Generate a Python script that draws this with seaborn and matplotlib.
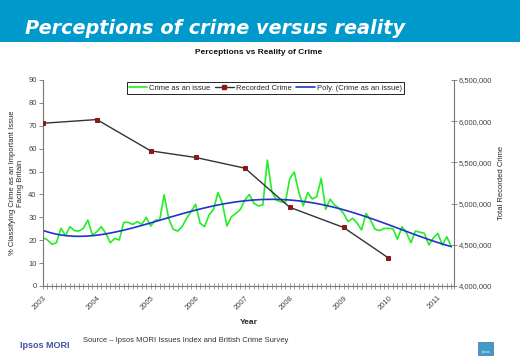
import numpy as np
import pandas as pd
import matplotlib
matplotlib.use("Agg")
import matplotlib.pyplot as plt
from matplotlib.patches import Rectangle
from matplotlib.lines import Line2D
from matplotlib.ticker import FuncFormatter, FixedLocator, MultipleLocator
import seaborn as sns

# ---------------- data ----------------
# "Crime as an issue" (% naming crime as important issue), survey waves in order
crime_issue = [21.1, 20.1, 18.2, 18.9, 25.2, 22.0, 25.9, 24.2, 24.0, 25.2,
               28.8, 22.3, 23.7, 25.9, 23.0, 18.9, 20.8, 20.1, 27.8, 27.8,
               26.9, 28.1, 26.9, 30.0, 26.2, 28.8, 28.8, 39.8, 29.6, 24.8,
               24.0, 25.9, 29.6, 32.5, 35.7, 27.5, 25.9, 31.0, 33.5, 40.8,
               36.0, 26.2, 30.3, 31.7, 33.5, 37.6, 40.0, 36.1, 35.0, 35.4,
               55.0, 41.2, 37.6, 36.8, 36.4, 47.0, 49.8, 41.0, 35.0, 40.8,
               38.0, 39.0, 47.0, 33.5, 37.9, 35.4, 33.9, 31.7, 28.1, 29.6,
               27.5, 24.5, 31.7, 28.8, 24.8, 24.2, 25.1, 25.2, 25.0, 20.4,
               25.9, 23.3, 18.9, 24.0, 23.5, 23.0, 17.9, 21.0, 23.0, 17.9,
               21.5, 17.2]
years = ["2003", "2004", "2005", "2006", "2007", "2008", "2009", "2010", "2011"]
year_wave = [0, 12, 24, 34, 45, 55, 67, 77, 88]          # wave index of each year label
recorded_crime = [5975000, 6020000, 5640000, 5560000, 5430000, 4955000, 4710000, 4340000]
recorded_wave = year_wave[:8]

wave = np.arange(len(crime_issue))
df_issue = pd.DataFrame({"wave": wave, "pct": crime_issue})
df_rec = pd.DataFrame({"wave": recorded_wave, "crime": recorded_crime})

# ---------------- style ----------------
sns.set_style("white")
plt.rcParams["font.family"] = ["Liberation Sans", "DejaVu Sans"]

W, H = 520, 360
fig = plt.figure(figsize=(W / 100, H / 100), dpi=100)

# banner
fig.patches.append(Rectangle((0, 1 - 42 / H), 1, 42 / H, transform=fig.transFigure,
                             facecolor="#0099CC", edgecolor="none", zorder=0))
fig.text(25 / W, 1 - 33.5 / H, "Perceptions of crime versus reality", color="white",
         fontsize=13.9, fontweight="bold", style="italic", va="baseline", ha="left",
         family=["DejaVu Sans"])
fig.text(259 / W, 1 - 52.5 / H, "Perceptions vs Reality of Crime", fontsize=6,
         fontweight="bold", ha="center", va="center", color="#111111")

ax = fig.add_axes([43 / W, 1 - 286 / H, 411 / W, 206 / H])
ax2 = ax.twinx()

green = "#22EE22"
blue = "#2233CC"
dark = "#333333"
marker_col = "#8B1A1A"

sns.lineplot(data=df_issue, x="wave", y="pct", ax=ax, color=green, lw=1.2)
sns.regplot(data=df_issue, x="wave", y="pct", ax=ax, order=4, scatter=False, ci=None,
            line_kws=dict(color=blue, lw=1.2))
sns.lineplot(data=df_rec, x="wave", y="crime", ax=ax2, color=dark, lw=1.0,
             marker="s", markersize=3.0, markerfacecolor=marker_col,
             markeredgecolor=marker_col)

n = len(crime_issue)
ax.set_xlim(0, n - 0.4)
ax.set_ylim(0, 90)
ax2.set_ylim(4000000, 6500000)

ax.yaxis.set_major_locator(MultipleLocator(10))
ax2.yaxis.set_major_locator(MultipleLocator(500000))
ax2.yaxis.set_major_formatter(FuncFormatter(lambda v, p: f"{int(v):,}"))

ax.xaxis.set_major_locator(FixedLocator(year_wave))
ax.set_xticklabels(years, rotation=45, ha="right", rotation_mode="anchor")
ax.xaxis.set_minor_locator(FixedLocator(list(wave) + [n - 0.4]))

axis_col = "#777777"
for a in (ax, ax2):
    for s in a.spines.values():
        s.set_visible(False)
ax.spines["left"].set_visible(True)
ax.spines["bottom"].set_visible(True)
ax2.spines["right"].set_visible(True)
for s in (ax.spines["left"], ax.spines["bottom"], ax2.spines["right"]):
    s.set_color(axis_col)
    s.set_linewidth(0.8)

ax.tick_params(axis="y", which="major", direction="out", length=3, width=0.6,
               color=axis_col, labelsize=5.5, labelcolor="#444444", pad=1.5, left=True)
ax2.tick_params(axis="y", which="major", direction="inout", length=4, width=0.6,
                color=axis_col, labelsize=5.5, labelcolor="#444444", pad=1.5, right=True)
ax.tick_params(axis="x", which="both", direction="inout", length=4, width=0.5,
               color=axis_col, bottom=True)
ax.tick_params(axis="x", which="major", labelsize=5.5, labelcolor="#444444", pad=4)

ax.set_xlabel("Year", fontsize=6, fontweight="bold", labelpad=6)
ax.set_ylabel("% Classifying Crime as an Important Issue\nFacing Britain", fontsize=5.5,
              labelpad=3.5, linespacing=1.1)
ax2.set_ylabel("Total Recorded Crime", fontsize=5.5, labelpad=4)
ax.grid(False)
ax2.grid(False)

handles = [Line2D([], [], color=green, lw=1.2),
           Line2D([], [], color=dark, lw=1.0, marker="s", markersize=2.5,
                  markerfacecolor=marker_col, markeredgecolor=marker_col),
           Line2D([], [], color=blue, lw=1.2)]
labels = ["Crime as an issue", "Recorded Crime", "Poly. (Crime as an issue)"]
leg = ax2.legend(handles, labels, loc="upper center", bbox_to_anchor=(0.541, 0.988),
                 ncol=3, fontsize=5.5, frameon=True, fancybox=False, framealpha=1,
                 edgecolor="black", borderpad=0.3, handlelength=2.4,
                 handletextpad=0.3, columnspacing=0.6, borderaxespad=0)
leg.get_frame().set_linewidth(0.6)

# footer
fig.text(83 / W, 1 - 340 / H, "Source \u2013 Ipsos MORI Issues Index and British Crime Survey",
         fontsize=5.5, color="#333333", ha="left", va="center")
fig.text(20 / W, 1 - 345 / H, "Ipsos MORI", fontsize=6.5, fontweight="bold",
         color="#3F51A3", ha="left", va="center")
fig.patches.append(Rectangle((478 / W, 1 - 355 / H), 15 / W, 13 / H,
                             transform=fig.transFigure, facecolor="#3E9DC8",
                             edgecolor="#5B5FB0", lw=0.5))
fig.text(485.5 / W, 1 - 351.5 / H, "Ipsos", fontsize=2.5, color="white",
         ha="center", va="center")

fig.savefig("out.png", dpi=100)
